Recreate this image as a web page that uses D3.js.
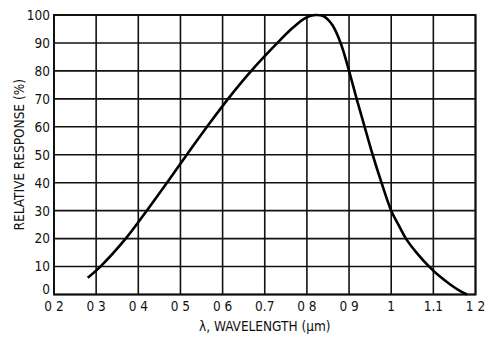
<!DOCTYPE html>
<html><head><meta charset="utf-8">
<script src="https://cdn.jsdelivr.net/npm/d3@7"></script>
<style>
html,body{margin:0;padding:0;background:#fff;}
text{font-family:"Liberation Sans Narrow","Arial Narrow","DejaVu Sans Condensed",sans-serif;fill:#111;}
</style></head>
<body><svg id="c" width="490" height="338"></svg>
<script>
const xTicks = [0.2,0.3,0.4,0.5,0.6,0.7,0.8,0.9,1.0,1.1,1.2];
const xTickLabels = ["0 2","0 3","0 4","0 5","0 6","0.7","0 8","0 9","1","1.1","1 2"];
const yTicks = [0,10,20,30,40,50,60,70,80,90,100];
const wavelength = [0.28,0.31,0.37,0.42,0.468,0.515,0.563,0.613,0.668,0.73,0.767,0.797,0.82,0.84,0.86,0.88,0.9,0.918,0.937,0.956,0.977,1.0,1.017,1.035,1.06,1.09,1.115,1.14,1.16,1.18];
const response   = [6,10,20,30,40,50,60,70,80,90,95.5,99,100,99.5,96.5,90,80,70,60,50,40,30,25,20,15,10,6.5,3.6,1.6,0];

const svg = d3.select("#c");
const L=54, R=475.5, T=15, B=294.5;
const x = d3.scaleLinear().domain([0.2,1.2]).range([L,R]);
const y = d3.scaleLinear().domain([0,100]).range([B,T]);

// grid
svg.append("g").selectAll("line").data(xTicks).join("line")
  .attr("x1",d=>x(d)).attr("x2",d=>x(d)).attr("y1",T).attr("y2",B)
  .attr("stroke","#111").attr("stroke-width",1.6);
svg.append("g").selectAll("line").data(yTicks).join("line")
  .attr("y1",d=>y(d)).attr("y2",d=>y(d)).attr("x1",L).attr("x2",R)
  .attr("stroke","#111").attr("stroke-width",1.6);
svg.append("rect").attr("x",L).attr("y",T).attr("width",R-L).attr("height",B-T)
  .attr("fill","none").attr("stroke","#111").attr("stroke-width",2);

// tick labels
svg.append("g").selectAll("text").data(yTicks).join("text")
  .attr("x",L-4).attr("y",d=>y(d)+(d===0?-5:0)).attr("dy","0.36em")
  .attr("text-anchor","end").attr("font-size",13.5).text(d=>d);
svg.append("g").selectAll("text").data(xTicks).join("text")
  .attr("x",d=>x(d)).attr("y",B+16)
  .attr("text-anchor","middle").attr("font-size",13.5).text((d,i)=>xTickLabels[i]);

// axis titles
svg.append("text").attr("x",(L+R)/2).attr("y",331).attr("text-anchor","middle")
  .attr("font-size",13.5).text("λ, WAVELENGTH (μm)");
svg.append("text").attr("transform",`translate(24,${(T+B)/2}) rotate(-90)`)
  .attr("text-anchor","middle").attr("font-size",13.5).text("RELATIVE RESPONSE (%)");

// curve
const pts = wavelength.map((w,i)=>[w,response[i]]);
svg.append("path").datum(pts)
  .attr("d",d3.line().x(d=>x(d[0])).y(d=>y(d[1])).curve(d3.curveCatmullRom.alpha(0.5)))
  .attr("fill","none").attr("stroke","#000").attr("stroke-width",2.6);
</script></body></html>
